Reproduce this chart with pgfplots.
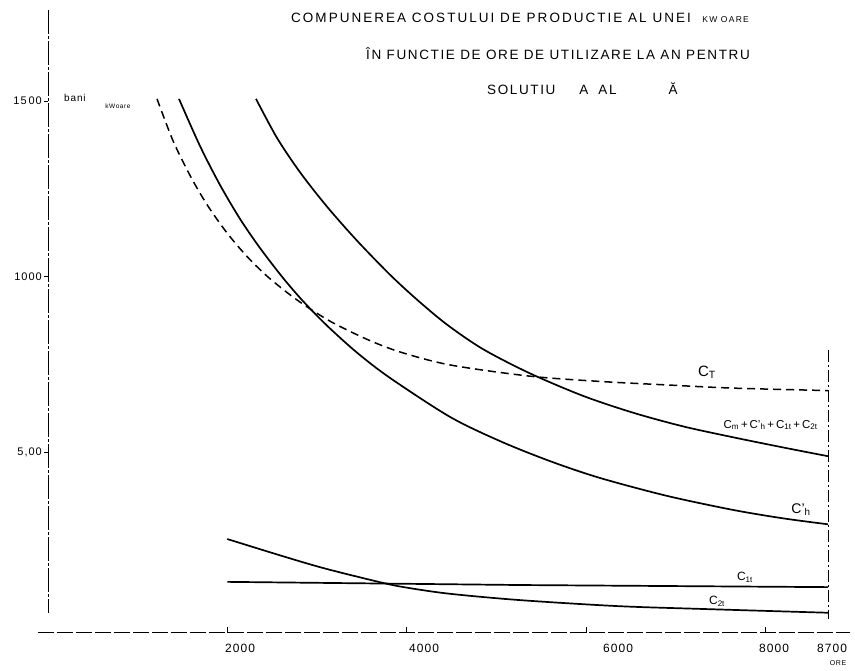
\documentclass[border=0pt]{standalone}
\usepackage{fontspec}
\setmainfont{Liberation Sans}
\newfontfamily\hand{Liberation Sans}[LetterSpace=9]
\newfontfamily\titlehand{Liberation Sans}[LetterSpace=15]
\newfontfamily\titlehandb{Liberation Sans}[LetterSpace=12]
\usepackage{pgfplots}
\pgfplotsset{compat=1.18}
\pgfplotstableread{
x y
1216 1506
1394 1387
1584 1288
1773 1205
1997 1124
2220 1057
2443 1001
2699 948
2922 908
3179 868
3558 821
3926 785
4484 748
5376 716
6157 701
6904 691
7640 682
8700 675
}\CT
\pgfplotstableread{
x y
1461 1506
1695 1372
1918 1261
2142 1164
2365 1081
2621 996
2844 930
3112 860
3447 783
3815 711
4484 600
5042 531
5599 474
6157 426
6904 375
7640 335
8198 311
8700 294
}\Ch
\pgfplotstableread{
x y
2320 1506
2554 1395
2811 1297
3112 1199
3447 1102
3815 1005
4116 934
4450 863
4852 793
5376 724
5967 660
6525 612
7083 573
7640 542
8198 513
8700 488
}\Csum
\pgfplotstableread{
x y
2000 130
5265 121
8700 115
}\Cone
\pgfplotstableread{
x y
2000 252
2621 203
3090 168
3737 127
4015 113
4484 96
5265 78
6347 61
7272 53
8700 42
}\Ctwo
\begin{document}
\begin{tikzpicture}[x=1pt,y=1pt]
\path[use as bounding box] (0,0) rectangle (855,671);
% title
\node[anchor=west,inner sep=0] at (291,653) {\titlehand\fontsize{13.5}{13.5}\selectfont COMPUNEREA COSTULUI DE PRODUCTIE AL UNEI \ {\fontsize{8.5}{8.5}\selectfont KW OARE}};
\node[anchor=west,inner sep=0] at (366,617) {\titlehandb\fontsize{13.5}{13.5}\selectfont ÎN FUNCTIE DE ORE DE UTILIZARE LA AN PENTRU};
\node[anchor=west,inner sep=0] at (487,582) {\titlehandb\fontsize{13.5}{13.5}\selectfont SOLUTIU\hspace{24pt}A\hspace{10pt}AL\hspace{52pt}Ă};
\begin{axis}[at={(48pt,43.5pt)}, anchor=origin, scale only axis,
  width=780pt, height=526.5pt,
  xmin=0, xmax=8700, ymin=0, ymax=1500,
  axis lines=none, clip=false]
% axes
\draw[line width=0.9pt, dash pattern=on 24pt off 2pt on 3pt off 2pt] (axis cs:0,1759) -- (axis cs:0,40);
\draw[line width=0.9pt, dash pattern=on 16pt off 3pt] (axis cs:-112,-15) -- (axis cs:8945,-15);
\draw[line width=0.9pt, dash pattern=on 12pt off 3pt on 2pt off 3pt] (axis cs:8700,790) -- (axis cs:8700,25);
\draw[line width=0.8pt] (axis cs:-45,500) -- (axis cs:0,500);
\draw[line width=0.8pt] (axis cs:-45,1000) -- (axis cs:0,1000);
\draw[line width=0.8pt] (axis cs:-45,1500) -- (axis cs:0,1500);
\draw[line width=0.8pt] (axis cs:2000,-15) -- (axis cs:2000,0);
\draw[line width=0.8pt] (axis cs:4000,-15) -- (axis cs:4000,0);
\draw[line width=0.8pt] (axis cs:6000,-15) -- (axis cs:6000,0);
\draw[line width=0.8pt] (axis cs:8000,-15) -- (axis cs:8000,0);
% tick labels
\node[anchor=east, font=\hand\fontsize{11}{11}\selectfont] at (axis cs:-30,1500) {15\,00};
\node[anchor=east, font=\hand\fontsize{11}{11}\selectfont] at (axis cs:-30,1000) {1000};
\node[anchor=east, font=\hand\fontsize{11}{11}\selectfont] at (axis cs:-30,500) {5,00};
\node[font=\hand\fontsize{10}{10}\selectfont] at (axis cs:300,1508) {bani};
\node[font=\hand\fontsize{6.5}{6.5}\selectfont] at (axis cs:780,1486) {kWoare};
\node[font=\hand\fontsize{12}{12}\selectfont] at (axis cs:2142,-60) {2000};
\node[font=\hand\fontsize{12}{12}\selectfont] at (axis cs:4194,-60) {4000};
\node[font=\hand\fontsize{12}{12}\selectfont] at (axis cs:6358,-60) {6000};
\node[font=\hand\fontsize{12}{12}\selectfont] at (axis cs:8098,-60) {8000};
\node[font=\hand\fontsize{12}{12}\selectfont] at (axis cs:8745,-60) {8700};
\node[font=\hand\fontsize{7}{7}\selectfont] at (axis cs:8812,-100) {ORE};
% curves
\addplot[black, line width=1.5pt, dash pattern=on 8pt off 5pt, smooth] table {\CT};
\addplot[black, line width=1.7pt, smooth] table {\Ch};
\addplot[black, line width=1.7pt, smooth] table {\Csum};
\addplot[black, line width=1.7pt] table {\Cone};
\addplot[black, line width=1.7pt, smooth] table {\Ctwo};
% curve labels
\node[font=\fontsize{15}{15}\selectfont] at (axis cs:7350,728) {C\textsubscript{T}};
\node[font=\fontsize{11.5}{11.5}\selectfont, inner sep=0] at (axis cs:8060,577) {C\textsubscript{m}\,+\,C'\textsubscript{h}\,+\,C\textsubscript{1t}\,+\,C\textsubscript{2t}};
\node[font=\fontsize{14}{14}\selectfont] at (axis cs:8399,335) {C'\textsubscript{h}};
\node[font=\fontsize{12}{12}\selectfont] at (axis cs:7774,144) {C\textsubscript{1t}};
\node[font=\fontsize{12}{12}\selectfont] at (axis cs:7462,75) {C\textsubscript{2t}};
\end{axis}
\end{tikzpicture}
\end{document}
